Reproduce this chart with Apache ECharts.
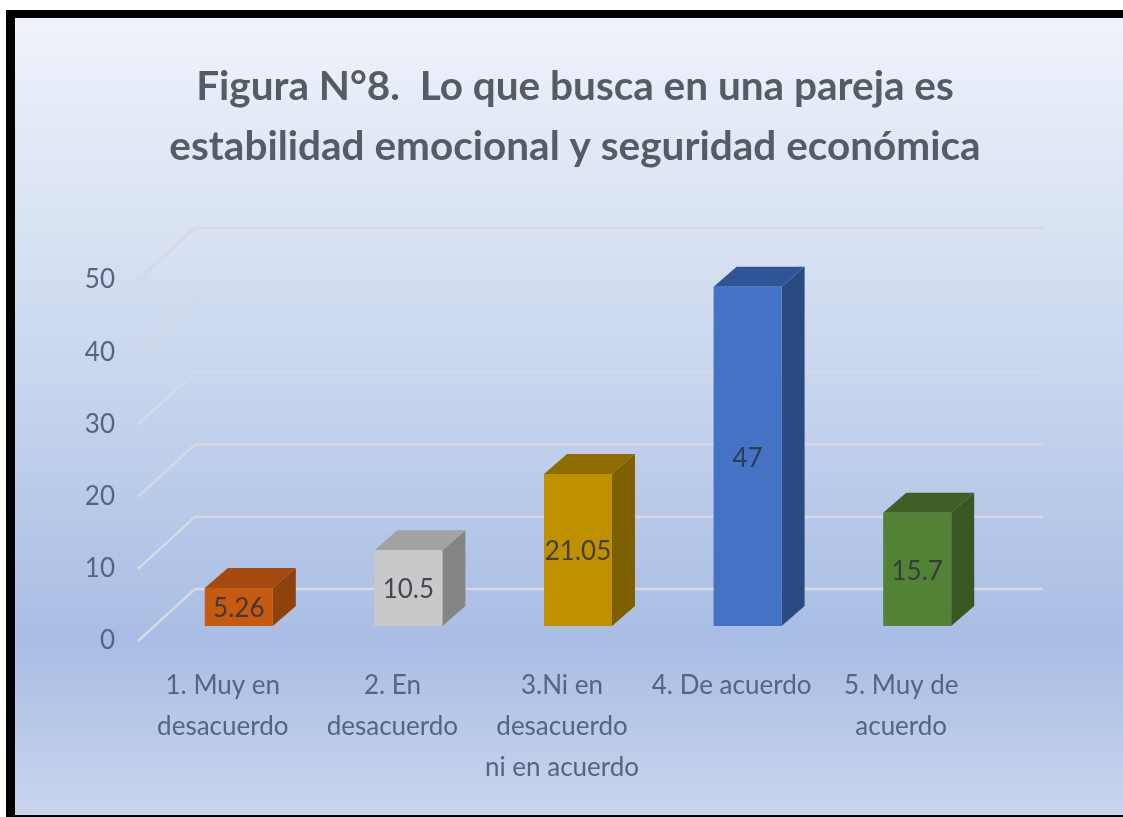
<!DOCTYPE html>
<html>
<head>
<meta charset="utf-8">
<title>Figura N°8</title>
<script src="https://cdn.jsdelivr.net/npm/echarts@6/dist/echarts.min.js"></script>
<style>
  html, body { margin: 0; padding: 0; background: #fff; }
  #chart { width: 1123px; height: 817px; }
</style>
</head>
<body>
<div id="chart"></div>
<script>
var titleText = 'Figura N°8.  Lo que busca en una pareja es\nestabilidad emocional y seguridad económica';
var categories = ['1. Muy en\ndesacuerdo', '2. En\ndesacuerdo', '3.Ni en\ndesacuerdo\nni en acuerdo', '4. De acuerdo', '5. Muy de\nacuerdo'];
var values = [5.26, 10.5, 21.05, 47, 15.7];
var yTicks = [0, 10, 20, 30, 40, 50];

// front, top, side of each bar
var barFront = ['#c55a11', '#c9c9c9', '#bf9000', '#4472c4', '#548235'];
var barTop = ['#a34a0e', '#a3a3a3', '#8f6c00', '#2f5597', '#3f6128'];
var barSide = ['#8f420c', '#858585', '#7f6000', '#2a4a82', '#385723'];

var textColor = '#566480';
var fontName = 'Lato, "Open Sans", sans-serif';

// fake 3D: wall depth and where the bars sit inside it
var wallDx = 57, wallDy = 52;
var barShiftX = 16, barShiftY = 15;
var barDx = 23, barDy = 20, barWidth = 68;

function renderWall(params, api) {
  var area = params.coordSys;
  var p = api.coord([0, api.value(1)]);
  var x0 = area.x;
  return {
    type: 'polyline',
    silent: true,
    shape: {
      points: [[x0, p[1]], [x0 + wallDx, p[1] - wallDy], [x0 + area.width + wallDx, p[1] - wallDy]]
    },
    style: { fill: 'none', stroke: '#d5d9e4', lineWidth: 2.5 }
  };
}

function renderBar(params, api) {
  var i = api.value(0);
  var v = api.value(1);
  var base = api.coord([i, 0]);
  var top = api.coord([i, v]);
  var left = base[0] + barShiftX - barWidth / 2;
  var right = left + barWidth;
  var yb = base[1] - barShiftY;
  var yt = top[1] - barShiftY;
  return {
    type: 'group',
    children: [
      {
        type: 'polygon',
        shape: { points: [[right, yt], [right + barDx, yt - barDy], [right + barDx, yb - barDy], [right, yb]] },
        style: { fill: barSide[i] }
      },
      {
        type: 'polygon',
        shape: { points: [[left, yt], [left + barDx, yt - barDy], [right + barDx, yt - barDy], [right, yt]] },
        style: { fill: barTop[i] }
      },
      {
        type: 'rect',
        shape: { x: left, y: yt, width: barWidth, height: yb - yt },
        style: { fill: barFront[i] }
      },
      {
        type: 'text',
        style: {
          text: String(v),
          x: left + barWidth / 2,
          y: (yt + yb) / 2 + 2,
          align: 'center',
          verticalAlign: 'middle',
          fill: 'rgba(45,50,60,0.85)',
          font: '26px ' + fontName
        }
      }
    ]
  };
}

var myChart = echarts.init(document.getElementById('chart'), null, { renderer: 'canvas' });
var option = {
  animation: false,
  backgroundColor: '#ffffff',
  graphic: [
    {
      // black frame, open on the right
      type: 'rect', z: -10,
      shape: { x: 6, y: 10, width: 1117, height: 807 },
      style: { fill: '#000000' }
    },
    {
      type: 'rect', z: -9,
      shape: { x: 15, y: 18, width: 1108, height: 797 },
      style: {
        fill: new echarts.graphic.LinearGradient(0, 0, 0, 1, [
          { offset: 0, color: '#eff3fa' },
          { offset: 0.25, color: '#dae3f3' },
          { offset: 0.5, color: '#c3d2ec' },
          { offset: 0.78, color: '#a9bde4' },
          { offset: 1, color: '#c8d5ec' }
        ])
      }
    }
  ],
  title: {
    text: titleText,
    left: 570,
    top: 52,
    textAlign: 'center',
    textStyle: {
      fontFamily: fontName,
      fontWeight: 'bold',
      fontSize: 40.5,
      lineHeight: 60,
      color: '#565b64'
    }
  },
  grid: { left: 138, right: 137, top: 280, bottom: 176 },
  xAxis: {
    type: 'category',
    data: categories,
    axisLine: { show: false },
    axisTick: { show: false },
    axisLabel: {
      interval: 0,
      margin: 24,
      color: textColor,
      fontFamily: fontName,
      fontSize: 26,
      lineHeight: 41
    }
  },
  yAxis: {
    type: 'value',
    min: 0,
    max: 50,
    interval: 10,
    axisLine: { show: false },
    axisTick: { show: false },
    splitLine: { show: false },
    axisLabel: {
      margin: 23,
      color: textColor,
      fontFamily: fontName,
      fontSize: 26
    }
  },
  series: [
    {
      name: 'ejes',
      type: 'custom',
      z: 1,
      clip: false,
      silent: true,
      renderItem: renderWall,
      encode: { x: 0, y: 1 },
      data: yTicks.map(function (t) { return [0, t]; })
    },
    {
      name: 'valores',
      type: 'custom',
      z: 2,
      clip: false,
      renderItem: renderBar,
      encode: { x: 0, y: 1 },
      data: values.map(function (v, i) { return [i, v]; })
    }
  ]
};
myChart.setOption(option);
</script>
</body>
</html>
